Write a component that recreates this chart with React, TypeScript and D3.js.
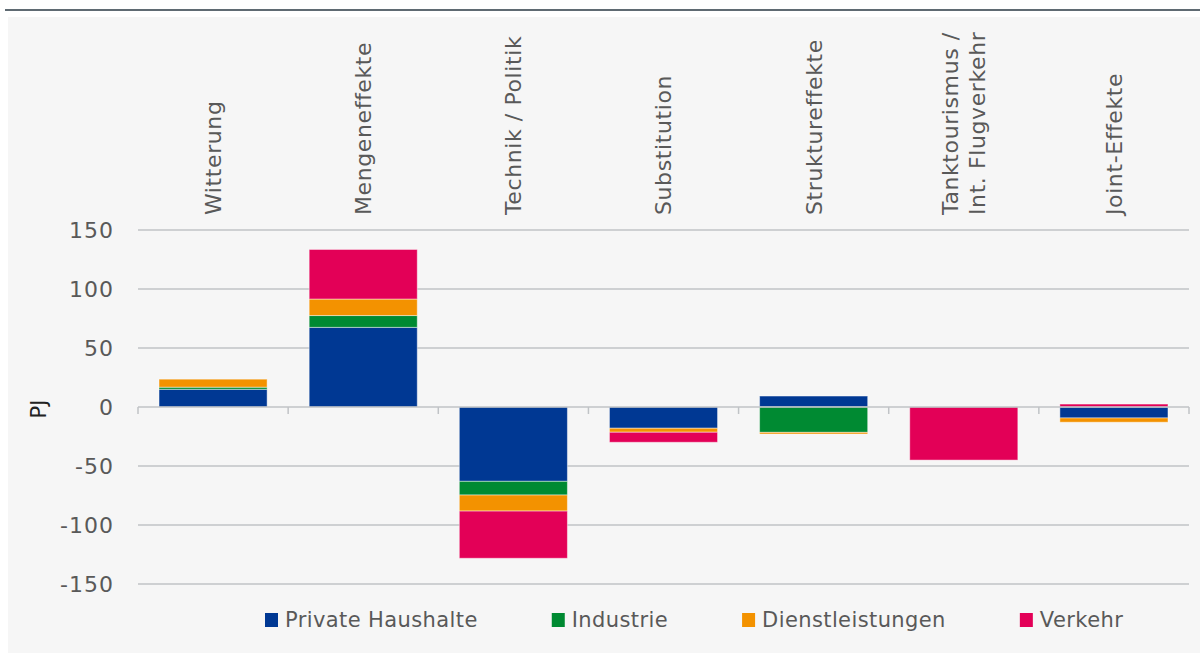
import React, { useRef, useEffect } from "react";
import * as d3 from "d3";

const categories = [
  "Witterung",
  "Mengeneffekte",
  "Technik / Politik",
  "Substitution",
  "Struktureffekte",
  "Tanktourismus /\nInt. Flugverkehr",
  "Joint-Effekte",
];
const seriesNames = ["Private Haushalte", "Industrie", "Dienstleistungen", "Verkehr"];
const privateHaushalte = [15, 67.5, -63, -18, 9.3, 0, -9.3];
const industrie = [1.8, 10, -11.6, 0, -21.5, 0, 0];
const dienstleistungen = [6.8, 14, -13.6, -3.4, -1.4, 0, -3.6];
const verkehr = [0, 42, -40, -8.5, 0, -45, 2.5];
const yTicks = [-150, -100, -50, 0, 50, 100, 150];
const colors = ["#003893", "#008a32", "#f39200", "#e30057"];

const W = 1200;
const H = 653;
const FONT = "'DejaVu Sans', sans-serif";
const TEXT = "#595959";

const App = () => {
  const svgRef = useRef<SVGSVGElement>(null);

  useEffect(() => {
    const svg = d3.select(svgRef.current);
    svg.selectAll("*").remove();

    // frame
    svg.append("rect").attr("x", 8).attr("y", 17).attr("width", W - 8).attr("height", H - 17).attr("fill", "#f6f6f6");
    svg.append("rect").attr("x", 5).attr("y", 9).attr("width", W - 5).attr("height", 2).attr("fill", "#5f6a72");

    const x = d3.scaleBand<string>().domain(categories).range([138, 1189]).paddingInner(0.28).paddingOuter(0.14);
    const y = d3.scaleLinear().domain([-150, 150]).range([584, 230]);

    // gridlines
    svg
      .append("g")
      .selectAll("line")
      .data(yTicks.filter((t) => t !== 0))
      .join("line")
      .attr("x1", 138)
      .attr("x2", 1189)
      .attr("y1", (d) => y(d))
      .attr("y2", (d) => y(d))
      .attr("stroke", "#c0c3c6")
      .attr("stroke-width", 1.5);

    // y tick labels
    svg
      .append("g")
      .selectAll("text")
      .data(yTicks)
      .join("text")
      .attr("x", 114)
      .attr("y", (d) => y(d))
      .attr("dy", "0.36em")
      .attr("text-anchor", "end")
      .attr("font-family", FONT)
      .attr("font-size", 22)
      .attr("letter-spacing", 1)
      .attr("fill", TEXT)
      .text((d) => d);

    svg
      .append("text")
      .attr("transform", `translate(46,409) rotate(-90)`)
      .attr("text-anchor", "middle")
      .attr("font-family", FONT)
      .attr("font-size", 21)
      .attr("fill", "#222")
      .text("PJ");

    // stacked bars
    const rows = categories.map((c, i) => ({
      cat: c,
      "Private Haushalte": privateHaushalte[i],
      Industrie: industrie[i],
      Dienstleistungen: dienstleistungen[i],
      Verkehr: verkehr[i],
    }));
    const stacked = d3.stack<any>().keys(seriesNames).offset(d3.stackOffsetDiverging)(rows);

    svg
      .append("g")
      .selectAll("g")
      .data(stacked)
      .join("g")
      .attr("fill", (_, i) => colors[i])
      .selectAll("rect")
      .data((d) => d.filter((p) => p[1] !== p[0]))
      .join("rect")
      .attr("x", (d) => x(d.data.cat)!)
      .attr("width", x.bandwidth())
      .attr("y", (d) => y(Math.max(d[0], d[1])))
      .attr("height", (d) => Math.abs(y(d[0]) - y(d[1])))
      .attr("stroke", "#ffffff")
      .attr("stroke-opacity", 0.45)
      .attr("stroke-width", 1);

    // zero axis with ticks
    svg
      .append("line")
      .attr("x1", 138)
      .attr("x2", 1189)
      .attr("y1", y(0))
      .attr("y2", y(0))
      .attr("stroke", "#c0c3c6")
      .attr("stroke-width", 1.5);
    const step = x.step();
    const bounds = d3.range(categories.length + 1).map((i) => 138 + i * step);
    svg
      .append("g")
      .selectAll("line")
      .data(bounds)
      .join("line")
      .attr("x1", (d) => d)
      .attr("x2", (d) => d)
      .attr("y1", y(0))
      .attr("y2", y(0) + 7)
      .attr("stroke", "#c0c3c6")
      .attr("stroke-width", 1.5);

    // category labels
    const lab = svg
      .append("g")
      .selectAll("text")
      .data(categories)
      .join("text")
      .attr("transform", (d) => `translate(${x(d)! + x.bandwidth() / 2},215) rotate(-90)`)
      .attr("font-family", FONT)
      .attr("font-size", 22)
      .attr("letter-spacing", 0.6)
      .attr("fill", TEXT);
    lab.each(function (d) {
      const lines = d.split("\n");
      const t = d3.select(this);
      lines.forEach((l, i) => {
        t.append("tspan")
          .attr("x", 0)
          .attr("y", (i - (lines.length - 1) / 2) * 27)
          .attr("dy", "0.36em")
          .text(l);
      });
    });

    // legend
    const leg = svg.append("g");
    let lx = 265;
    seriesNames.forEach((s, i) => {
      leg.append("rect").attr("x", lx).attr("y", 613).attr("width", 13).attr("height", 14).attr("fill", colors[i]);
      const t = leg
        .append("text")
        .attr("x", lx + 20)
        .attr("y", 627)
        .attr("font-family", FONT)
        .attr("font-size", 21)
        .attr("letter-spacing", 0.4)
        .attr("fill", TEXT)
        .text(s);
      const w = (t.node() as SVGTextElement).getComputedTextLength();
      lx += 20 + w + 74;
    });
  }, []);

  return (
    <svg
      ref={svgRef}
      width={W}
      height={H}
      viewBox={`0 0 ${W} ${H}`}
      style={{ position: "absolute", left: 0, top: 0, background: "#fff" }}
    />
  );
};

export default App;
